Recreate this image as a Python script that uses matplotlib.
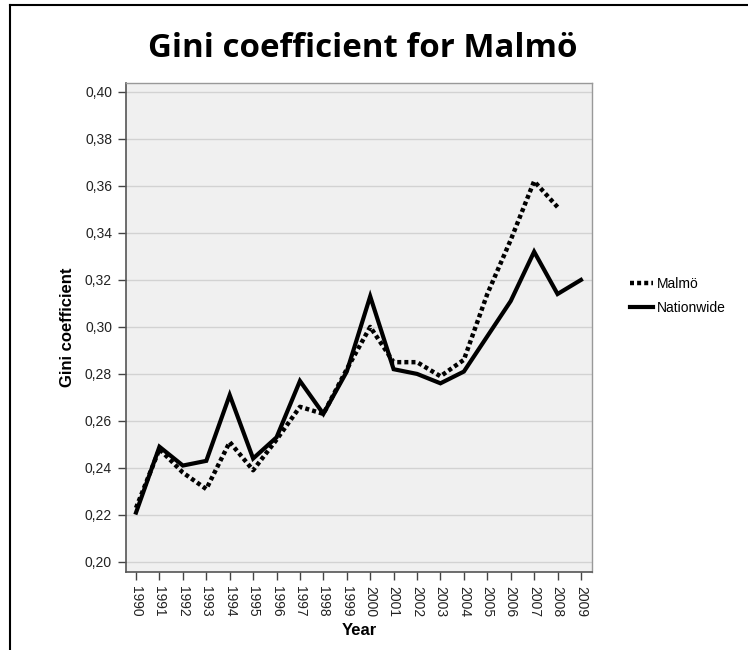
import numpy as np
import matplotlib.pyplot as plt
from matplotlib.lines import Line2D

years = list(range(1990, 2010))
malmo = [0.223, 0.248, 0.238, 0.231, 0.251, 0.239, 0.252, 0.266, 0.263, 0.282,
         0.300, 0.285, 0.285, 0.279, 0.286, 0.314, 0.337, 0.362, 0.351, np.nan]
nationwide = [0.221, 0.249, 0.241, 0.243, 0.271, 0.244, 0.253, 0.277, 0.263, 0.281,
              0.313, 0.282, 0.280, 0.276, 0.281, 0.296, 0.311, 0.332, 0.314, 0.320]
yticks = [0.20, 0.22, 0.24, 0.26, 0.28, 0.30, 0.32, 0.34, 0.36, 0.38, 0.40]

plt.rcParams['font.family'] = ['Liberation Sans', 'DejaVu Sans']

fig = plt.figure(figsize=(7.48, 6.5), dpi=100)
ax = fig.add_axes([0.1684, 0.12, 0.623, 0.7523])
ax.set_facecolor('#f0f0f0')

dots = (0, (0.9, 0.7))
ax.plot(years, malmo, color='black', linewidth=3.2, linestyle=dots,
        dash_capstyle='butt', zorder=3)
ax.plot(years, nationwide, color='black', linewidth=3.0, zorder=4,
        solid_joinstyle='miter')

ax.set_xlim(1989.57, 2009.47)
ax.set_ylim(0.1957, 0.4038)
ax.set_xticks(years)
ax.set_xticklabels([str(y) for y in years], rotation=270, fontsize=10, color='#222222')
ax.set_yticks(yticks)
ax.set_yticklabels([f"{v:.2f}".replace('.', ',') for v in yticks], fontsize=10, color='#222222')
ax.grid(axis='y', color='#d2d2d2', linewidth=1)
ax.set_axisbelow(True)
ax.tick_params(direction='out', length=6, width=1, color='#444444', pad=4)

for s in ['left', 'bottom']:
    ax.spines[s].set_color('#555555')
    ax.spines[s].set_linewidth(1.2)
for s in ['top', 'right']:
    ax.spines[s].set_color('#999999')
    ax.spines[s].set_linewidth(1)

ax.set_xlabel('Year', fontsize=12, fontweight='bold', labelpad=4)
ax.set_ylabel('Gini coefficient', fontsize=12, fontweight='bold', labelpad=7)

fig.text(0.4846, 0.925, 'Gini coefficient for Malmö', ha='center', va='center',
         fontsize=23.8, fontweight='bold', family=['Open Sans', 'DejaVu Sans'])

handles = [Line2D([], [], color='black', linewidth=3.2, linestyle=dots, dash_capstyle='butt'),
           Line2D([], [], color='black', linewidth=3.0)]
fig.legend(handles, ['Malmö', 'Nationwide'], loc='center left',
           bbox_to_anchor=(0.826, 0.545), frameon=False, fontsize=10,
           handlelength=1.6, handletextpad=0.3, labelspacing=0.75)

# outer frame (top and left)
fig.add_artist(Line2D([0.013, 1.0], [0.993, 0.993], color='black', linewidth=1.5,
                      transform=fig.transFigure))
fig.add_artist(Line2D([0.013, 0.013], [0.0, 0.993], color='black', linewidth=1.5,
                      transform=fig.transFigure))

fig.savefig('out.png', dpi=100)
